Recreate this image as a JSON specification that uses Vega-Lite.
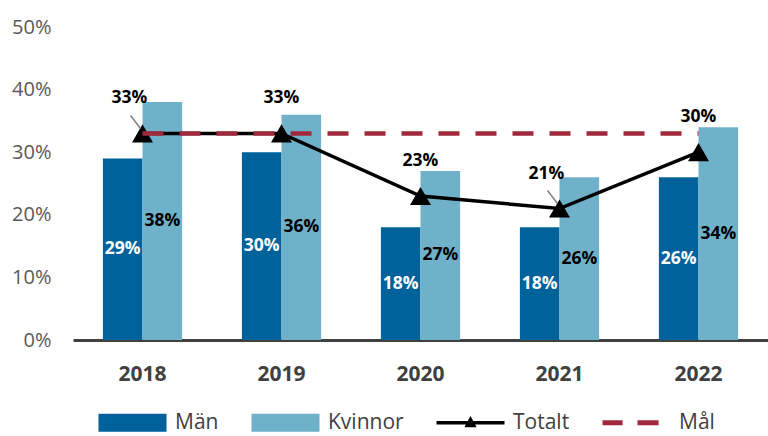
{
  "$schema": "https://vega.github.io/schema/vega-lite/v6.json",
  "autosize": "none",
  "width": 695,
  "height": 313,
  "padding": {"left": 73, "top": 27, "right": 0, "bottom": 96},
  "background": "white",
  "config": {"view": {"stroke": null}, "font": "Open Sans"},
  "data": {"values": [
    {"year": "2018", "series": "Män", "value": 0.29},
    {"year": "2019", "series": "Män", "value": 0.30},
    {"year": "2020", "series": "Män", "value": 0.18},
    {"year": "2021", "series": "Män", "value": 0.18},
    {"year": "2022", "series": "Män", "value": 0.26},
    {"year": "2018", "series": "Kvinnor", "value": 0.38},
    {"year": "2019", "series": "Kvinnor", "value": 0.36},
    {"year": "2020", "series": "Kvinnor", "value": 0.27},
    {"year": "2021", "series": "Kvinnor", "value": 0.26},
    {"year": "2022", "series": "Kvinnor", "value": 0.34},
    {"year": "2018", "series": "Totalt", "value": 0.33},
    {"year": "2019", "series": "Totalt", "value": 0.33},
    {"year": "2020", "series": "Totalt", "value": 0.23},
    {"year": "2021", "series": "Totalt", "value": 0.21},
    {"year": "2022", "series": "Totalt", "value": 0.30},
    {"year": "2018", "series": "Mål", "value": 0.33},
    {"year": "2019", "series": "Mål", "value": 0.33},
    {"year": "2020", "series": "Mål", "value": 0.33},
    {"year": "2021", "series": "Mål", "value": 0.33},
    {"year": "2022", "series": "Mål", "value": 0.33}
  ]},
  "encoding": {
    "x": {
      "field": "year", "type": "nominal",
      "scale": {"paddingInner": 0.43, "paddingOuter": 0.215},
      "axis": {"title": null, "labelAngle": 0, "ticks": false, "domainColor": "#404040", "domainWidth": 3,
               "labelFont": "Open Sans", "labelFontSize": 21, "labelFontWeight": "bold", "labelColor": "#404040", "labelPadding": 23}
    }
  },
  "layer": [
    {
      "transform": [{"filter": "datum.series === 'Män' || datum.series === 'Kvinnor'"}],
      "mark": {"type": "bar"},
      "encoding": {
        "xOffset": {"field": "series", "type": "nominal", "sort": ["Män", "Kvinnor"], "scale": {"paddingInner": 0, "paddingOuter": 0}},
        "y": {"field": "value", "type": "quantitative", "scale": {"domain": [0, 0.5], "nice": false},
              "axis": {"title": null, "format": ".0%", "values": [0, 0.1, 0.2, 0.3, 0.4, 0.5], "grid": false, "domain": false, "ticks": false,
                       "labelFont": "Open Sans", "labelFontSize": 20, "labelColor": "#595959", "labelPadding": 22}},
        "color": {"condition": {"test": "datum.series === 'Män'", "value": "#00629B"}, "value": "#70B1CA"}
      }
    },
    {
      "transform": [{"filter": "datum.series === 'Män' || datum.series === 'Kvinnor'"}],
      "mark": {"type": "text", "font": "Open Sans", "fontSize": 17.5, "fontWeight": "bold", "baseline": "middle", "align": "center"},
      "encoding": {
        "xOffset": {"field": "series", "type": "nominal", "sort": ["Män", "Kvinnor"]},
        "y": {"field": "value", "type": "quantitative", "scale": {"domain": [0, 1], "nice": false}, "axis": null},
        "text": {"field": "value", "type": "quantitative", "format": ".0%"},
        "color": {"condition": {"test": "datum.series === 'Män'", "value": "white"}, "value": "black"}
      }
    },
    {
      "transform": [{"filter": "datum.series === 'Totalt'"}],
      "mark": {"type": "line", "color": "black", "strokeWidth": 3.5,
               "point": {"shape": "triangle-up", "size": 440, "filled": true, "color": "black", "opacity": 1}},
      "encoding": {
        "y": {"field": "value", "type": "quantitative", "scale": {"domain": [0, 0.5], "nice": false}, "axis": null}
      }
    },
    {
      "transform": [{"filter": "datum.series === 'Mål'"}],
      "mark": {"type": "line", "color": "#A0283C", "strokeWidth": 4.5, "strokeDash": [21, 16]},
      "encoding": {
        "y": {"field": "value", "type": "quantitative", "scale": {"domain": [0, 0.5], "nice": false}, "axis": null}
      }
    },
    {
      "transform": [{"filter": "datum.series === 'Totalt' && (datum.year === '2018' || datum.year === '2021')"}],
      "mark": {"type": "rule", "color": "#808080", "strokeWidth": 1.5, "xOffset": -2, "yOffset": -5, "x2Offset": -12, "y2Offset": -18},
      "encoding": {
        "x": {"field": "year", "type": "nominal", "bandPosition": 0.5},
        "x2": {"field": "year", "bandPosition": 0.5},
        "y": {"field": "value", "type": "quantitative", "scale": {"domain": [0, 0.5], "nice": false}, "axis": null},
        "y2": {"field": "value"}
      }
    },
    {
      "transform": [{"filter": "datum.series === 'Totalt' && datum.year !== '2018' && datum.year !== '2021'"}],
      "mark": {"type": "text", "font": "Open Sans", "fontSize": 17.5, "fontWeight": "bold", "baseline": "middle", "align": "center", "dy": -35, "color": "black"},
      "encoding": {
        "y": {"field": "value", "type": "quantitative", "scale": {"domain": [0, 0.5], "nice": false}, "axis": null},
        "text": {"field": "value", "type": "quantitative", "format": ".0%"}
      }
    },
    {
      "transform": [{"filter": "datum.series === 'Totalt' && (datum.year === '2018' || datum.year === '2021')"}],
      "mark": {"type": "text", "font": "Open Sans", "fontSize": 17.5, "fontWeight": "bold", "baseline": "middle", "align": "center", "dy": -35, "dx": -13, "color": "black"},
      "encoding": {
        "y": {"field": "value", "type": "quantitative", "scale": {"domain": [0, 0.5], "nice": false}, "axis": null},
        "text": {"field": "value", "type": "quantitative", "format": ".0%"}
      }
    },
    {
      "transform": [{"filter": "datum.year === '2018'"}],
      "mark": {"type": "point", "filled": true, "opacity": 0},
      "encoding": {
        "y": {"field": "value", "type": "quantitative", "scale": {"domain": [0, 0.5], "nice": false}, "axis": null},
        "color": {"field": "series", "type": "nominal",
                  "scale": {"domain": ["Män", "Kvinnor", "Totalt", "Mål"], "range": ["#00629B", "#70B1CA", "#000000", "#A0283C"]},
                  "legend": {"title": null, "orient": "none", "legendX": 49, "legendY": 385, "direction": "horizontal",
                             "symbolSize": 400, "symbolOpacity": 1, "symbolStrokeWidth": 0, "padding": 0,
                             "labelFont": "Open Sans", "labelFontSize": 21, "labelColor": "#404040", "labelOffset": 32, "columnPadding": 32,
                             "encode": {"symbols": {"update": {"opacity": {"value": 1}, "fillOpacity": {"value": 1}}}}}},
        "shape": {"field": "series", "type": "nominal",
                  "scale": {"domain": ["Män", "Kvinnor", "Totalt", "Mål"],
                            "range": ["M-3.4,-0.9H3.4V0.9H-3.4Z", "M-3.4,-0.9H3.4V0.9H-3.4Z",
                                      "M-3.4,-0.17H3.4V0.17H-3.4Z M-0.61,0.44L0,-0.68L0.61,0.44Z",
                                      "M-3.4,-0.25H-1.39V0.25H-3.4Z M0.1,-0.25H2.21V0.25H0.1Z"]}}
      }
    }
  ],
  "resolve": {"scale": {"y": "independent"}}
}
